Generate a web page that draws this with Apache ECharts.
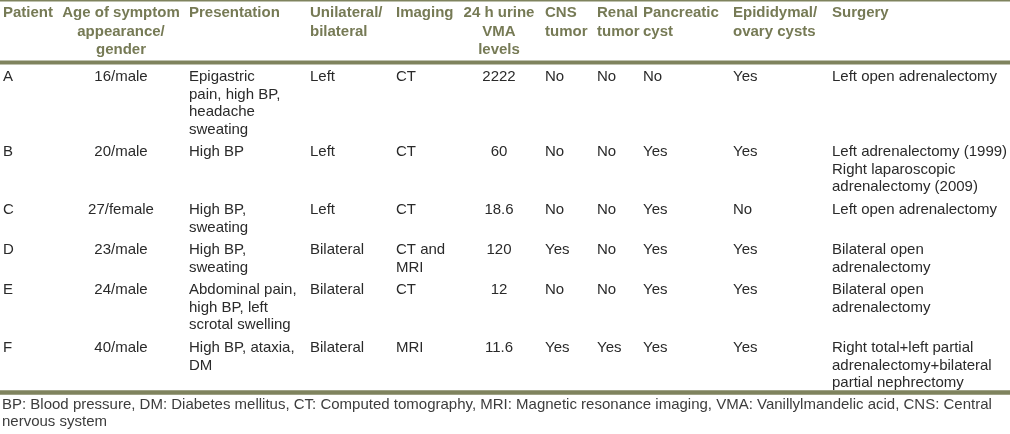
<!DOCTYPE html>
<html>
<head>
<meta charset="utf-8">
<script src="https://cdn.jsdelivr.net/npm/echarts@6/dist/echarts.min.js"></script>
<style>html,body{margin:0;padding:0;background:#fff;}#c{width:1010px;height:434px;}</style>
</head>
<body>
<div id="c"></div>
<script>
// ---- data ----
const headers = [
  "Patient",
  "Age of symptom\nappearance/\ngender",
  "Presentation",
  "Unilateral/\nbilateral",
  "Imaging",
  "24 h urine\nVMA\nlevels",
  "CNS\ntumor",
  "Renal\ntumor",
  "Pancreatic\ncyst",
  "Epididymal/\novary cysts",
  "Surgery"
];
const patients = ["A", "B", "C", "D", "E", "F"];
const ageGender = ["16/male", "20/male", "27/female", "23/male", "24/male", "40/male"];
const presentation = [
  "Epigastric\npain, high BP,\nheadache\nsweating",
  "High BP",
  "High BP,\nsweating",
  "High BP,\nsweating",
  "Abdominal pain,\nhigh BP, left\nscrotal swelling",
  "High BP, ataxia,\nDM"
];
const laterality = ["Left", "Left", "Left", "Bilateral", "Bilateral", "Bilateral"];
const imaging = ["CT", "CT", "CT", "CT and\nMRI", "CT", "MRI"];
const vmaLevels = ["2222", "60", "18.6", "120", "12", "11.6"];
const cnsTumor = ["No", "No", "No", "Yes", "No", "Yes"];
const renalTumor = ["No", "No", "No", "No", "No", "Yes"];
const pancreaticCyst = ["No", "Yes", "Yes", "Yes", "Yes", "Yes"];
const epididymalCysts = ["Yes", "Yes", "No", "Yes", "Yes", "Yes"];
const surgery = [
  "Left open adrenalectomy",
  "Left adrenalectomy (1999)\nRight laparoscopic\nadrenalectomy (2009)",
  "Left open adrenalectomy",
  "Bilateral open\nadrenalectomy",
  "Bilateral open\nadrenalectomy",
  "Right total+left partial\nadrenalectomy+bilateral\npartial nephrectomy"
];
const footnote = "BP: Blood pressure, DM: Diabetes mellitus, CT: Computed tomography, MRI: Magnetic resonance imaging, VMA: Vanillylmandelic acid, CNS: Central\nnervous system";

// ---- layout ----
const columns = [patients, ageGender, presentation, laterality, imaging, vmaLevels,
  cnsTumor, renalTumor, pancreaticCyst, epididymalCysts, surgery];
const colX = [3, 121, 189, 310, 396, 499, 545, 597, 643, 733, 832];
const colAlign = ['left', 'center', 'left', 'left', 'left', 'center', 'left', 'left', 'left', 'left', 'left'];
const LH = 17.5, PAD = 5.2, HLH = 18.5;
const firstRowY = 77, headerY = 13;
const rowY = [];
let y = firstRowY;
patients.forEach((p, r) => {
  rowY.push(y);
  const lines = Math.max.apply(null, columns.map(c => c[r].split('\n').length));
  y += lines * LH + PAD;
});

const headerCells = headers.map((h, c) => [c, -1]);
const bodyCells = [];
columns.forEach((col, c) => col.forEach((v, r) => bodyCells.push([c, r])));

const headerColor = '#767a55';
const ruleColor = '#7f835e';
const bodyColor = '#2a2a2a';
const rules = [[0.8, 1.6], [62.5, 4], [392.5, 4.5]];

const chart = echarts.init(document.getElementById('c'), null, {renderer: 'canvas'});
chart.setOption({
  animation: false,
  grid: {left: 0, right: 0, top: 0, bottom: 0},
  xAxis: {type: 'value', min: 0, max: 1010, show: false},
  yAxis: {type: 'value', min: 0, max: 434, inverse: true, show: false},
  series: [
    {
      type: 'custom', silent: true,
      data: rules,
      renderItem: (params, api) => {
        const p0 = api.coord([0, api.value(0)]);
        const p1 = api.coord([1010, api.value(0)]);
        return {type: 'line', shape: {x1: p0[0], y1: p0[1], x2: p1[0], y2: p1[1]},
          style: {stroke: ruleColor, lineWidth: api.value(1)}};
      }
    },
    {
      type: 'custom', silent: true,
      data: headerCells,
      renderItem: (params, api) => {
        const c = api.value(0);
        const p = api.coord([colX[c], headerY - HLH / 2]);
        return {type: 'text', x: p[0], y: p[1], style: {
          text: headers[c], fill: headerColor, align: colAlign[c], verticalAlign: 'top',
          font: 'bold 15px "Liberation Sans", Arial, sans-serif', lineHeight: HLH}};
      }
    },
    {
      type: 'custom', silent: true,
      data: bodyCells,
      renderItem: (params, api) => {
        const c = api.value(0), r = api.value(1);
        const p = api.coord([colX[c], rowY[r] - LH / 2]);
        return {type: 'text', x: p[0], y: p[1], style: {
          text: columns[c][r], fill: bodyColor, align: colAlign[c], verticalAlign: 'top',
          font: '15px "Liberation Sans", Arial, sans-serif', lineHeight: LH}};
      }
    },
    {
      type: 'custom', silent: true,
      data: [[0]],
      renderItem: (params, api) => {
        const p = api.coord([2, 397]);
        return {type: 'text', x: p[0], y: p[1], style: {
          text: footnote, fill: '#3c3c3c', align: 'left', verticalAlign: 'top',
          font: '15px "Liberation Sans", Arial, sans-serif', lineHeight: 16.5}};
      }
    }
  ]
});
</script>
</body>
</html>
